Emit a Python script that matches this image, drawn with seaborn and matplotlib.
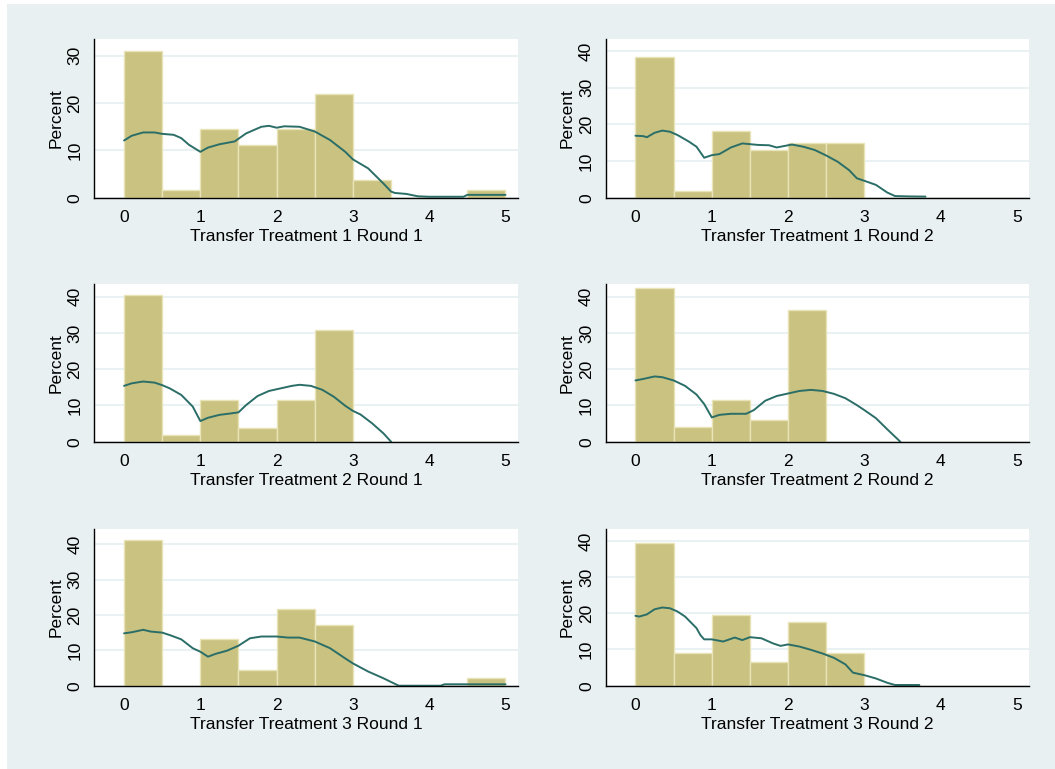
import numpy as np
import pandas as pd
import matplotlib
matplotlib.use("Agg")
import matplotlib.pyplot as plt
from matplotlib.patches import Rectangle
import seaborn as sns

sns.set_theme(style="white")
plt.rcParams['font.family'] = ['Liberation Sans', 'DejaVu Sans']

# ---------------- data ----------------
bin_edges = [0, 0.5, 1, 1.5, 2, 2.5, 3, 3.5, 4, 4.5, 5]
bin_centers = [0.25, 0.75, 1.25, 1.75, 2.25, 2.75, 3.25, 3.75, 4.25, 4.75]

titles = ["Transfer Treatment 1 Round 1", "Transfer Treatment 1 Round 2",
          "Transfer Treatment 2 Round 1", "Transfer Treatment 2 Round 2",
          "Transfer Treatment 3 Round 1", "Transfer Treatment 3 Round 2"]

pct_t1r1 = [31.1, 1.7, 14.5, 11.1, 14.5, 21.9, 3.7, 0, 0, 1.7]
pct_t1r2 = [38.3, 1.7, 18.3, 13.1, 14.8, 14.8, 0, 0, 0, 0]
pct_t2r1 = [40.5, 1.9, 11.5, 3.9, 11.5, 30.8, 0, 0, 0, 0]
pct_t2r2 = [42.5, 4.0, 11.5, 5.9, 36.4, 0, 0, 0, 0, 0]
pct_t3r1 = [41.1, 0, 13.2, 4.4, 21.7, 17.2, 0, 0, 0, 2.3]
pct_t3r2 = [39.3, 8.9, 19.4, 6.6, 17.6, 8.9, 0, 0, 0, 0]

# density curves (in percent units)
kx_t1r1 = [0, 0.1, 0.25, 0.4, 0.5, 0.65, 0.75, 0.85, 1.0, 1.1, 1.25, 1.45, 1.6, 1.8, 1.9, 2.0,
           2.1, 2.3, 2.5, 2.7, 2.9, 3.0, 3.2, 3.4, 3.5, 3.55, 3.7, 3.85, 4.0, 4.45, 4.5, 5.0]
ky_t1r1 = [12.1, 13.1, 13.8, 13.8, 13.5, 13.3, 12.6, 11.2, 9.7, 10.6, 11.3, 11.9, 13.6, 15.0, 15.2, 14.8,
           15.1, 15.0, 14.0, 12.2, 9.7, 8.1, 6.2, 3.0, 1.3, 1.0, 0.8, 0.3, 0.2, 0.2, 0.6, 0.6]

kx_t1r2 = [0, 0.1, 0.15, 0.25, 0.35, 0.45, 0.55, 0.7, 0.8, 0.9, 1.0, 1.1, 1.25, 1.4, 1.6, 1.75,
           1.85, 1.95, 2.05, 2.2, 2.35, 2.5, 2.65, 2.8, 2.9, 3.0, 3.15, 3.3, 3.4, 3.6, 3.8]
ky_t1r2 = [16.9, 16.8, 16.5, 17.7, 18.3, 18.0, 17.1, 15.3, 13.9, 10.9, 11.6, 11.9, 13.7, 14.8, 14.4, 14.3,
           13.7, 14.1, 14.5, 13.9, 13.0, 11.5, 9.8, 7.5, 5.3, 4.6, 3.5, 1.4, 0.45, 0.35, 0.3]

kx_t2r1 = [0, 0.1, 0.25, 0.4, 0.5, 0.6, 0.75, 0.9, 1.0, 1.1, 1.25, 1.4, 1.5, 1.6, 1.75, 1.9,
           2.05, 2.2, 2.3, 2.45, 2.6, 2.75, 2.9, 3.0, 3.1, 3.25, 3.4, 3.5]
ky_t2r1 = [15.4, 16.1, 16.6, 16.3, 15.6, 14.7, 12.9, 9.7, 5.7, 6.6, 7.4, 7.8, 8.1, 10.1, 12.6, 14.0,
           14.7, 15.4, 15.7, 15.4, 14.3, 12.4, 9.9, 8.5, 7.5, 5.1, 2.3, 0.0]

kx_t2r2 = [0, 0.1, 0.25, 0.35, 0.5, 0.65, 0.8, 0.9, 1.0, 1.1, 1.25, 1.45, 1.55, 1.7, 1.85, 2.0,
           2.15, 2.3, 2.45, 2.6, 2.75, 2.9, 3.0, 3.15, 3.3, 3.47]
ky_t2r2 = [16.9, 17.3, 18.0, 17.8, 16.9, 15.4, 13.0, 10.4, 6.7, 7.4, 7.7, 7.7, 8.7, 11.3, 12.6, 13.3,
           14.0, 14.3, 14.0, 13.2, 12.0, 10.1, 8.7, 6.5, 3.4, 0.0]

kx_t3r1 = [0, 0.1, 0.25, 0.35, 0.5, 0.6, 0.75, 0.9, 1.0, 1.1, 1.2, 1.35, 1.5, 1.65, 1.8, 2.0,
           2.15, 2.3, 2.5, 2.7, 2.9, 3.0, 3.2, 3.4, 3.6, 4.15, 4.2, 5.0]
ky_t3r1 = [14.8, 15.1, 15.8, 15.3, 15.0, 14.3, 13.1, 10.6, 9.6, 8.2, 9.0, 9.9, 11.3, 13.4, 13.9, 13.9,
           13.6, 13.6, 12.5, 10.6, 7.7, 6.3, 4.0, 2.1, 0.0, 0.0, 0.4, 0.4]

kx_t3r2 = [0, 0.05, 0.15, 0.25, 0.35, 0.45, 0.55, 0.65, 0.8, 0.85, 0.9, 1.0, 1.15, 1.3, 1.4, 1.5,
           1.65, 1.8, 1.9, 2.0, 2.15, 2.3, 2.45, 2.6, 2.75, 2.85, 3.0, 3.15, 3.3, 3.4, 3.72]
ky_t3r2 = [19.3, 19.1, 19.7, 21.1, 21.6, 21.4, 20.5, 19.1, 15.9, 14.0, 12.8, 12.8, 12.2, 13.3, 12.6, 13.4,
           13.1, 11.7, 11.0, 11.4, 10.8, 9.9, 8.9, 7.7, 5.9, 3.6, 2.9, 2.0, 0.8, 0.2, 0.2]

x_ticks = [0, 1, 2, 3, 4, 5]
y_ticks_small = [0, 10, 20, 30]
y_ticks_big = [0, 10, 20, 30, 40]

pcts = [pct_t1r1, pct_t1r2, pct_t2r1, pct_t2r2, pct_t3r1, pct_t3r2]
kxs = [kx_t1r1, kx_t1r2, kx_t2r1, kx_t2r2, kx_t3r1, kx_t3r2]
kys = [ky_t1r1, ky_t1r2, ky_t2r1, ky_t2r2, ky_t3r1, ky_t3r2]
ymaxes = [33.5, 43.2, 43.5, 43.5, 44.2, 43.2]
yticks_list = [y_ticks_small, y_ticks_big, y_ticks_big, y_ticks_big, y_ticks_big, y_ticks_big]

# ---------------- style ----------------
BG = "#E8F0F2"
BAR = "#C9C280"
BAR_EDGE = "#E9E4B8"
LINE = "#2B6E68"
FS = 12.5

W, H = 1055, 769
fig = plt.figure(figsize=(W / 100, H / 100), dpi=100, facecolor="white")
fig.patches.append(Rectangle((7 / W, 0), 1 - 7 / W, 1 - 4 / H, transform=fig.transFigure,
                             facecolor=BG, edgecolor="none", zorder=-10))

col_left = [94.3, 605.7]
col_right = [517.7, 1029.3]
row_top = [39.3, 284.0, 529.3]
row_bot = [197.7, 441.7, 685.7]

for i in range(6):
    r, c = divmod(i, 2)
    left = col_left[c] / W
    width = (col_right[c] - col_left[c]) / W
    bottom = 1 - row_bot[r] / H
    height = (row_bot[r] - row_top[r]) / H
    ax = fig.add_axes([left, bottom, width, height])
    ax.set_facecolor("white")

    df = pd.DataFrame({"x": bin_centers, "w": pcts[i]})
    sns.histplot(data=df, x="x", weights="w", bins=bin_edges, stat="count",
                 color=BAR, edgecolor=BAR_EDGE, linewidth=1.0, alpha=1.0, ax=ax, zorder=2)
    kd = pd.DataFrame({"x": kxs[i], "y": kys[i]})
    sns.lineplot(data=kd, x="x", y="y", sort=False, estimator=None, color=LINE,
                 linewidth=1.4, ax=ax, zorder=3)

    ax.set_xlim(-0.39, 5.16)
    ax.set_ylim(0, ymaxes[i])
    ax.set_xticks(x_ticks)
    ax.set_yticks(yticks_list[i])
    ax.set_xticklabels([str(t) for t in x_ticks], fontsize=FS)
    ax.set_yticklabels([str(t) for t in yticks_list[i]], fontsize=FS, rotation=90, va="center")
    ax.yaxis.grid(True, color=BG, linewidth=1.3, zorder=0)
    ax.xaxis.grid(False)
    ax.set_axisbelow(True)
    for s in ["top", "right"]:
        ax.spines[s].set_visible(False)
    for s in ["left", "bottom"]:
        ax.spines[s].set_color("black")
        ax.spines[s].set_linewidth(1.0)
        ax.spines[s].set_zorder(5)
    ax.tick_params(axis="both", direction="out", length=6, width=1, color="black",
                   labelcolor="black", pad=2.5)
    ax.set_xlabel(titles[i], fontsize=FS, color="black", labelpad=3)
    ax.set_ylabel("Percent", fontsize=FS, color="black", labelpad=3)

fig.savefig("out.png", dpi=100, facecolor=fig.get_facecolor())
